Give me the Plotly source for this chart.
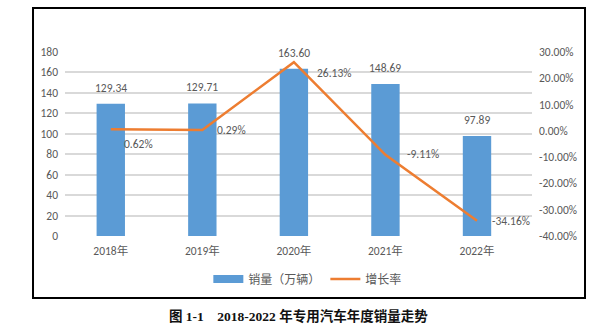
import plotly.graph_objects as go

years = ["2018年", "2019年", "2020年", "2021年", "2022年"]
sales = [129.34, 129.71, 163.60, 148.69, 97.89]
growth = [0.62, 0.29, 26.13, -9.11, -34.16]
sales_labels = ["129.34", "129.71", "163.60", "148.69", "97.89"]
growth_labels = ["0.62%", "0.29%", "26.13%", "-9.11%", "-34.16%"]
left_ticks = list(range(0, 181, 20))
right_ticks = list(range(-40, 31, 10))
right_ticktext = [f"{v:.2f}%" for v in right_ticks]

# label offsets (px) for growth labels
g_dx = [11, 13, 21, 20, 13]
g_dy = [-15, 0, -11, 1, 0]

FONT = "Calibri, Carlito, 'Noto Sans CJK SC', sans-serif"
GRAY = "#595959"
BLUE = "#5B9BD5"
ORANGE = "#ED7D31"

fig = go.Figure()
fig.add_trace(go.Bar(
    x=years, y=sales, name="销量（万辆）", marker_color=BLUE,
    marker_line_width=0, yaxis="y", width=0.31, showlegend=False,
))
# legend entry for the bars (wide flat swatch like the original)
fig.add_trace(go.Scatter(
    x=[None], y=[None], name="销量（万辆）", mode="lines",
    line=dict(color=BLUE, width=8), yaxis="y",
))
fig.add_trace(go.Scatter(
    x=years, y=growth, name="增长率", mode="lines",
    line=dict(color=ORANGE, width=2.5), yaxis="y2",
))

ann = []
for x, y, t in zip(years, sales, sales_labels):
    ann.append(dict(x=x, y=y, xref="x", yref="y", text=t, showarrow=False,
                    yanchor="bottom", yshift=7, font=dict(size=11.5, color=GRAY, family=FONT)))
for x, y, t, dx, dy in zip(years, growth, growth_labels, g_dx, g_dy):
    ann.append(dict(x=x, y=y, xref="x", yref="y2", text=t, showarrow=False,
                    xanchor="left", xshift=dx, yshift=dy,
                    font=dict(size=11.5, color=GRAY, family=FONT)))
ann.append(dict(x=0.5, y=-0.435, xref="paper", yref="paper", yanchor="middle",
                text="<b>图 1-1    2018-2022 年专用汽车年度销量走势</b>", showarrow=False,
                font=dict(size=13.5, color="#111111",
                          family="'Liberation Serif', 'Noto Sans CJK SC', serif")))

fig.update_layout(
    width=600, height=327,
    margin=dict(l=65, r=68, t=52, b=91),
    paper_bgcolor="white", plot_bgcolor="white",
    font=dict(family=FONT, size=11.5, color=GRAY),
    bargap=0.69,
    showlegend=True,
    legend=dict(orientation="h", x=0.52, xanchor="center", y=-0.234, yanchor="middle",
                font=dict(size=12, color=GRAY, family="'Noto Sans CJK SC', sans-serif"),
                itemwidth=30),
    xaxis=dict(showgrid=False, showline=False, ticks="", ticklabelstandoff=6,
               tickfont=dict(size=11.5, color=GRAY)),
    yaxis=dict(range=[0, 180], tickvals=left_ticks, showgrid=True, gridcolor="#D9D9D9",
               gridwidth=1.5, zeroline=False, showline=False, ticks="", ticklabelstandoff=6),
    yaxis2=dict(range=[-40, 30], tickvals=right_ticks, ticktext=right_ticktext,
                overlaying="y", side="right", showgrid=False, zeroline=False, showline=False,
                ticklabelstandoff=6),
    annotations=ann,
    shapes=[dict(type="rect", xref="paper", yref="paper", x0=-0.0685, x1=1.1135,
                 y0=-0.337, y1=1.239, line=dict(color="black", width=2))],
)

fig.write_html("out.html")
